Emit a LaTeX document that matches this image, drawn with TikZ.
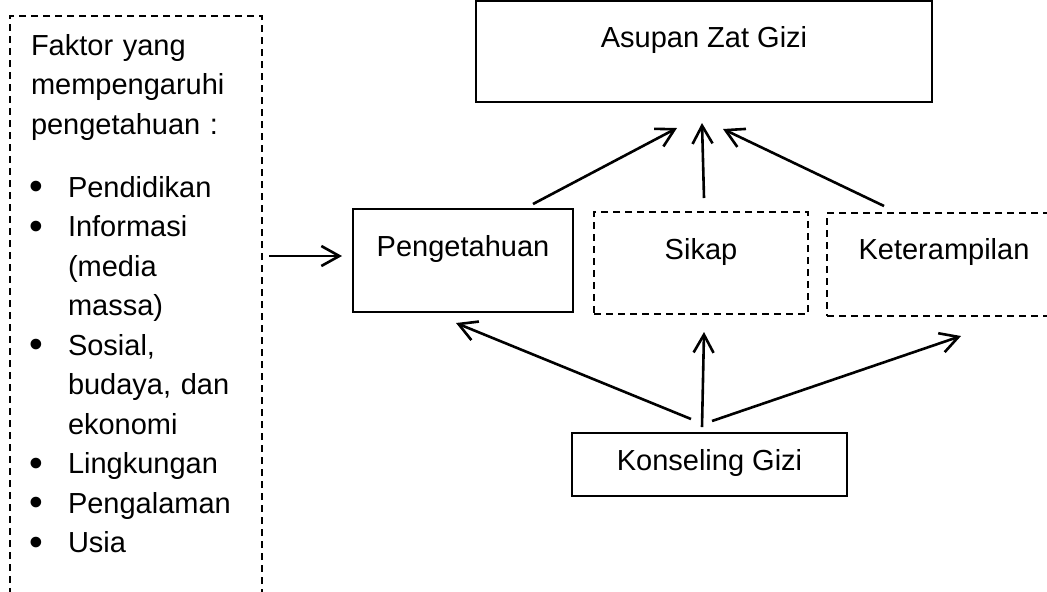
\documentclass[tikz,border=0pt]{standalone}
\usepackage{fontspec}
\setmainfont{Liberation Sans}
\usetikzlibrary{arrows.meta}
\usetikzlibrary{positioning}
\newcommand{\butir}{\makebox[18.5pt][l]{\hspace*{-0.8pt}\raisebox{-1.1pt}{\scalebox{1.35}{\textbullet}}}}
\newcommand{\lanjut}{\hspace*{18.5pt}}
\begin{document}
\begin{tikzpicture}[x=0.5pt,y=-0.5pt,
  every node/.style={font=\fontsize{14.5pt}{19.75pt}\selectfont,inner ysep=0pt},
  kotak/.style={draw,line width=1pt,inner xsep=0pt},
  kotakputus/.style={kotak,dash pattern=on 3.5pt off 2.5pt},
  panah/.style={line width=1.3pt,-{Straight Barb[length=9pt,width=10pt]}}]
  \useasboundingbox (0,0) rectangle (1047,591);

  \node[kotakputus,inner xsep=10.5pt,text width=105pt,align=left,text height=19.7pt,text depth=282.3pt] (faktor) at (136,318)
    {Faktor yang\\ mempengaruhi\\ pengetahuan :\\[11.75pt]
     \butir Pendidikan\\ \butir Informasi\\ \lanjut(media\\ \lanjut massa)\\
     \butir Sosial,\\ \lanjut budaya, dan\\ \lanjut ekonomi\\
     \butir Lingkungan\\ \butir Pengalaman\\ \butir Usia};

  \node[kotak,minimum width=228pt,text height=23pt,text depth=27.5pt] (asupan) at (704,51.5) {Asupan Zat Gizi};
  \node[kotak,minimum width=110pt,text height=23.5pt,text depth=28pt] (pengetahuan) at (463,260.5) {Pengetahuan};
  \node[kotakputus,minimum width=107pt,text height=23.5pt,text depth=27.5pt,right=9.5pt of pengetahuan,yshift=-1.25pt] (sikap) {Sikap};
  \node[kotakputus,minimum width=117pt,text height=23pt,text depth=28.5pt,right=8.5pt of sikap,yshift=-0.75pt] (keterampilan) {Keterampilan};
  \node[kotak,minimum width=137.5pt,text height=18.5pt,text depth=13pt] (konseling) at (709.5,464.5) {Konseling Gizi};

  \draw[panah]([shift={(6,-4.5)}]faktor.east |- pengetahuan.west)--([shift={(-10,-4.5)}]pengetahuan.west);

  \draw[panah]([shift={(70,-4)}]pengetahuan.north)--([shift={(-27,25)}]asupan.south);
  \draw[panah]([shift={(3,-13)}]sikap.north)--([shift={(-2,20)}]asupan.south);
  \draw[panah]([shift={(-60,-6)}]keterampilan.north)--([shift={(19,26)}]asupan.south);

  \draw[panah]([shift={(-18.5,-13)}]konseling.north)--([shift={(-7,10)}]pengetahuan.south);
  \draw[panah]([shift={(-7.5,-5)}]konseling.north)--([shift={(3,17)}]sikap.south);
  \draw[panah]([shift={(2.5,-11)}]konseling.north)--([shift={(17,19)}]keterampilan.south);
\end{tikzpicture}
\end{document}
